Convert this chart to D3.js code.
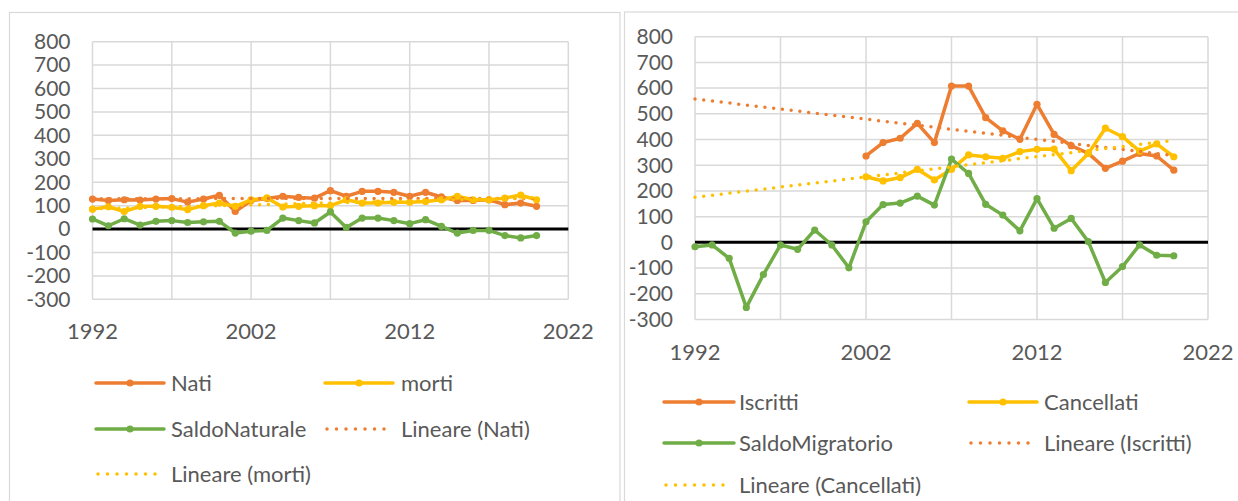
<!DOCTYPE html>
<html>
<head>
<meta charset="utf-8">
<script src="https://cdn.jsdelivr.net/npm/d3@7"></script>
<style>
    body { margin: 0; background: #fff; }
    text { font-family: Lato, "Open Sans", sans-serif; fill: #595959; }
</style>
</head>
<body>
<svg id="chart" width="1238" height="501"></svg>
<script>
// categories
var years = [1992, 1993, 1994, 1995, 1996, 1997, 1998, 1999, 2000, 2001, 2002, 2003, 2004, 2005, 2006,
             2007, 2008, 2009, 2010, 2011, 2012, 2013, 2014, 2015, 2016, 2017, 2018, 2019, 2020];
var years2002 = [2002, 2003, 2004, 2005, 2006, 2007, 2008, 2009, 2010, 2011, 2012, 2013, 2014, 2015, 2016,
                 2017, 2018, 2019, 2020];
var xTicks = [1992, 2002, 2012, 2022];
var xGrid = [1992, 1997, 2002, 2007, 2012, 2017, 2022];
var yTicks = [800, 700, 600, 500, 400, 300, 200, 100, 0, -100, -200, -300];

// left chart: natural balance
var nati = [128, 122, 125, 124, 128, 130, 115, 128, 144, 75, 122, 130, 140, 135, 132,
            164, 140, 161, 161, 157, 140, 157, 137, 122, 122, 125, 104, 111, 97];
var morti = [85, 95, 75, 97, 97, 93, 83, 100, 111, 97, 125, 133, 94, 97, 100,
             100, 125, 111, 111, 114, 114, 118, 125, 140, 125, 125, 132, 145, 125];
var saldoNaturale = [43, 14, 44, 17, 33, 36, 28, 31, 33, -17, -9, -6, 47, 36, 26,
                     73, 7, 47, 47, 36, 23, 40, 11, -17, -6, -6, -28, -38, -28];

// right chart: migration balance
var iscritti = [336, 388, 405, 463, 388, 608, 608, 485, 434, 401, 537, 420, 376, 346, 288,
                316, 346, 336, 281];
var cancellati = [255, 239, 252, 284, 243, 284, 340, 333, 327, 353, 362, 363, 279, 346, 444,
                  411, 355, 383, 333];
var saldoMigratorio = [-17, -10, -62, -253, -125, -10, -27, 48, -10, -99, 80, 147, 153, 180, 145,
                       324, 268, 148, 106, 45, 170, 55, 93, 3, -156, -94, -10, -50, -52];

var orange = "#ED7D31", yellow = "#FFC000", green = "#70AD47";

// least squares on category index, like the Excel trendline
var linearFit = (xs, ys) => {
    var n = xs.length;
    var mx = d3.mean(xs), my = d3.mean(ys);
    var num = 0, den = 0;
    for (var i = 0; i < n; i++) {
        num += (xs[i] - mx) * (ys[i] - my);
        den += (xs[i] - mx) * (xs[i] - mx);
    }
    var slope = num / den;
    return function(x) { return my + slope * (x - mx); };
};

var svg = d3.select("#chart");

// panel frames
svg.append("rect").attr("x", 9.5).attr("y", 12.5).attr("width", 610.5).attr("height", 520)
    .attr("fill", "none").attr("stroke", "#d9d9d9").attr("stroke-width", 1.2);
svg.append("rect").attr("x", 624.5).attr("y", 12).attr("width", 640).attr("height", 520)
    .attr("fill", "none").attr("stroke", "#d9d9d9").attr("stroke-width", 1.2);

var drawPanel = (config) => {
    var p = config.plot;
    var x = d3.scaleLinear().domain([1992, 2022]).range([p.left, p.right]);
    var y = d3.scaleLinear().domain([-300, 800]).range([p.bottom, p.top]);
    var g = svg.append("g");

    // gridlines
    g.selectAll(".hgrid").data(yTicks).enter().append("line")
        .attr("x1", p.left).attr("x2", p.right)
        .attr("y1", d => y(d)).attr("y2", d => y(d))
        .attr("stroke", "#d9d9d9").attr("stroke-width", 1.5);
    g.selectAll(".vgrid").data(xGrid).enter().append("line")
        .attr("x1", d => x(d)).attr("x2", d => x(d))
        .attr("y1", p.top).attr("y2", p.bottom)
        .attr("stroke", "#d9d9d9").attr("stroke-width", 1.5);

    // axis labels
    g.selectAll(".ylab").data(yTicks).enter().append("text")
        .attr("x", p.left - 22).attr("y", d => y(d)).attr("dy", "0.35em")
        .attr("text-anchor", "end").style("font-size", "21px")
        .text(d => d);
    g.selectAll(".xlab").data(xTicks).enter().append("text")
        .attr("x", d => x(d)).attr("y", config.xLabelY).attr("dy", "0.35em")
        .attr("text-anchor", "middle").style("font-size", "22px")
        .text(d => d);

    // zero line
    g.append("line").attr("x1", p.left).attr("x2", p.right)
        .attr("y1", y(0)).attr("y2", y(0))
        .attr("stroke", "#000").attr("stroke-width", 3);

    var line = d3.line().x(d => x(d[0])).y(d => y(d[1]));

    // series
    config.series.forEach(function(s) {
        var pts = s.years.map((yr, i) => [yr, s.values[i]]);
        g.append("path").datum(pts)
            .attr("d", line)
            .attr("fill", "none").attr("stroke", s.color)
            .attr("stroke-width", 3.5).attr("stroke-linejoin", "round").attr("stroke-linecap", "round");
        g.selectAll(null).data(pts).enter().append("circle")
            .attr("cx", d => x(d[0])).attr("cy", d => y(d[1])).attr("r", 3.6)
            .attr("fill", s.color);
    });

    // trendlines over the full category range
    config.trends.forEach(function(t) {
        var fit = linearFit(t.source.years, t.source.values);
        var ends = [1992, 2020].map(yr => [yr, fit(yr)]);
        g.append("path").datum(ends)
            .attr("d", line)
            .attr("fill", "none").attr("stroke", t.color)
            .attr("stroke-width", 3.5).attr("stroke-linecap", "round")
            .attr("stroke-dasharray", "0 8.8");
    });

    // legend, two columns, row by row
    var items = config.series.map(s => ({name: s.name, color: s.color, dotted: false}))
        .concat(config.trends.map(t => ({name: t.name, color: t.color, dotted: true})));
    var lg = config.legend;
    items.forEach(function(it, i) {
        var col = lg.cols[i % 2];
        var ry = lg.rows[Math.floor(i / 2)];
        if (it.dotted) {
            g.append("line").attr("x1", col.x0 + 2).attr("x2", col.x1 - 4)
                .attr("y1", ry).attr("y2", ry)
                .attr("stroke", it.color).attr("stroke-width", 3.5)
                .attr("stroke-linecap", "round").attr("stroke-dasharray", "0 9.5");
        }
        else {
            g.append("line").attr("x1", col.x0).attr("x2", col.x1)
                .attr("y1", ry).attr("y2", ry)
                .attr("stroke", it.color).attr("stroke-width", 3.5).attr("stroke-linecap", "round");
            g.append("circle").attr("cx", (col.x0 + col.x1) / 2).attr("cy", ry).attr("r", 3.6)
                .attr("fill", it.color);
        }
        g.append("text").attr("x", col.tx).attr("y", ry).attr("dy", "0.35em")
            .style("font-size", "22px").text(it.name);
    });
};

var natiS = {name: "Nati", years: years, values: nati, color: orange};
var mortiS = {name: "morti", years: years, values: morti, color: yellow};
var saldoNatS = {name: "SaldoNaturale", years: years, values: saldoNaturale, color: green};

drawPanel({
    plot: {left: 92.5, right: 568.3, top: 41.7, bottom: 299.3},
    xLabelY: 331,
    series: [natiS, mortiS, saldoNatS],
    trends: [{name: "Lineare (Nati)", source: natiS, color: orange},
             {name: "Lineare (morti)", source: mortiS, color: yellow}],
    legend: {rows: [383, 429, 474],
             cols: [{x0: 96, x1: 164, tx: 171}, {x0: 325, x1: 393, tx: 401}]}
});

var iscrittiS = {name: "Iscritti", years: years2002, values: iscritti, color: orange};
var cancellatiS = {name: "Cancellati", years: years2002, values: cancellati, color: yellow};
var saldoMigS = {name: "SaldoMigratorio", years: years, values: saldoMigratorio, color: green};

drawPanel({
    plot: {left: 695, right: 1208, top: 36.7, bottom: 319.5},
    xLabelY: 352,
    series: [iscrittiS, cancellatiS, saldoMigS],
    trends: [{name: "Lineare (Iscritti)", source: iscrittiS, color: orange},
             {name: "Lineare (Cancellati)", source: cancellatiS, color: yellow}],
    legend: {rows: [402, 443, 485],
             cols: [{x0: 664, x1: 734, tx: 739}, {x0: 969, x1: 1037, tx: 1044}]}
});
</script>
</body>
</html>
